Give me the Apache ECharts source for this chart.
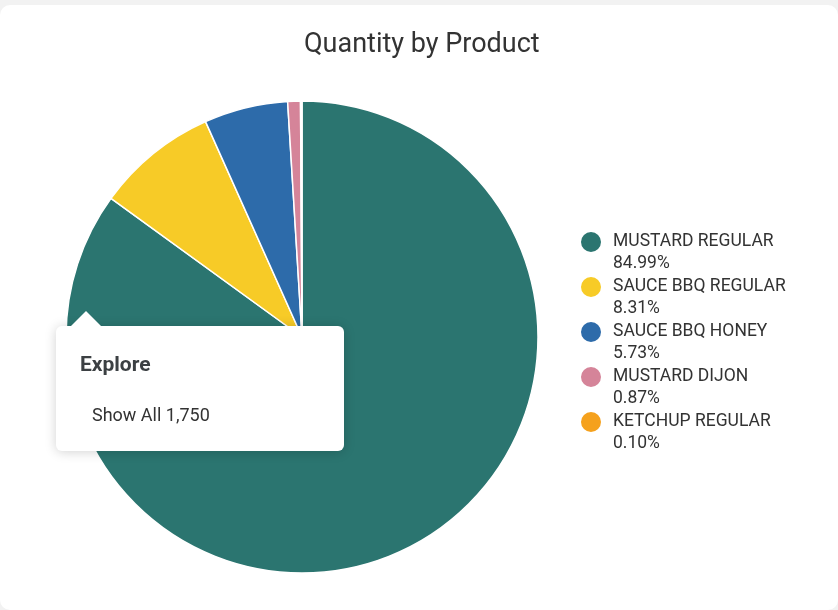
<!DOCTYPE html>
<html>
<head>
<meta charset="utf-8">
<script src="https://cdn.jsdelivr.net/npm/echarts@6/dist/echarts.min.js"></script>
<style>
html,body{margin:0;padding:0;background:#f2f2f2;width:838px;height:610px;overflow:hidden;}
#card{position:absolute;left:0;top:5px;width:838px;height:605px;background:#fff;border-radius:10px;}
#c{position:absolute;left:0;top:0;width:838px;height:610px;}
</style>
</head>
<body>
<div id="card"></div>
<div id="c"></div>
<script>
var titleText = 'Quantity by Product';
var products = ['MUSTARD REGULAR', 'SAUCE BBQ REGULAR', 'SAUCE BBQ HONEY', 'MUSTARD DIJON', 'KETCHUP REGULAR'];
var shares = [84.99, 8.31, 5.73, 0.87, 0.10];
var colors = ['#2B7570', '#F7CB27', '#2D6BAA', '#D58499', '#F5A11D'];
var tipTitle = 'Explore';
var tipItem = 'Show All 1,750';

var data = products.map(function (p, i) { return { name: p, value: shares[i] }; });
var pctMap = {};
products.forEach(function (p, i) { pctMap[p] = shares[i].toFixed(2) + '%'; });

var chart = echarts.init(document.getElementById('c'), null, { renderer: 'canvas' });
chart.setOption({
  backgroundColor: 'transparent',
  color: colors,
  title: {
    text: titleText,
    left: 299,
    top: 27,
    textStyle: { fontFamily: 'Roboto', fontSize: 27, fontWeight: 'normal', color: '#333' }
  },
  legend: {
    orient: 'vertical',
    left: 574,
    top: 204,
    icon: 'circle',
    itemWidth: 22,
    itemHeight: 22,
    itemGap: -21,
    formatter: function (n) { return ' \n' + n + '\n' + pctMap[n]; },
    textStyle: { fontFamily: 'Roboto', fontSize: 17.5, color: '#333', lineHeight: 22, padding: [0, 0, 0, 6] }
  },
  series: [{
    type: 'pie',
    center: [302, 337],
    radius: [0, 236],
    startAngle: 90,
    clockwise: true,
    label: { show: false },
    labelLine: { show: false },
    itemStyle: { borderColor: '#fff', borderWidth: 1.5 },
    emphasis: { disabled: true },
    data: data
  }],
  graphic: [
    {
      type: 'rect',
      shape: { x: 56, y: 326, width: 288, height: 125, r: 6 },
      style: { fill: '#fff', shadowBlur: 12, shadowColor: 'rgba(0,0,0,0.18)', shadowOffsetY: 1 },
      z: 100
    },
    {
      type: 'polygon',
      shape: { points: [[70, 327], [86, 311], [102, 327]] },
      style: { fill: '#fff' },
      z: 101
    },
    {
      type: 'text',
      x: 80, y: 366,
      style: { text: tipTitle, fontFamily: 'Roboto', fontSize: 21, fontWeight: 'bold', fill: '#3c4043', verticalAlign: 'middle' },
      z: 102
    },
    {
      type: 'text',
      x: 92, y: 416,
      style: { text: tipItem, fontFamily: 'Roboto', fontSize: 18, fill: '#333', verticalAlign: 'middle' },
      z: 102
    }
  ]
});
</script>
</body>
</html>
